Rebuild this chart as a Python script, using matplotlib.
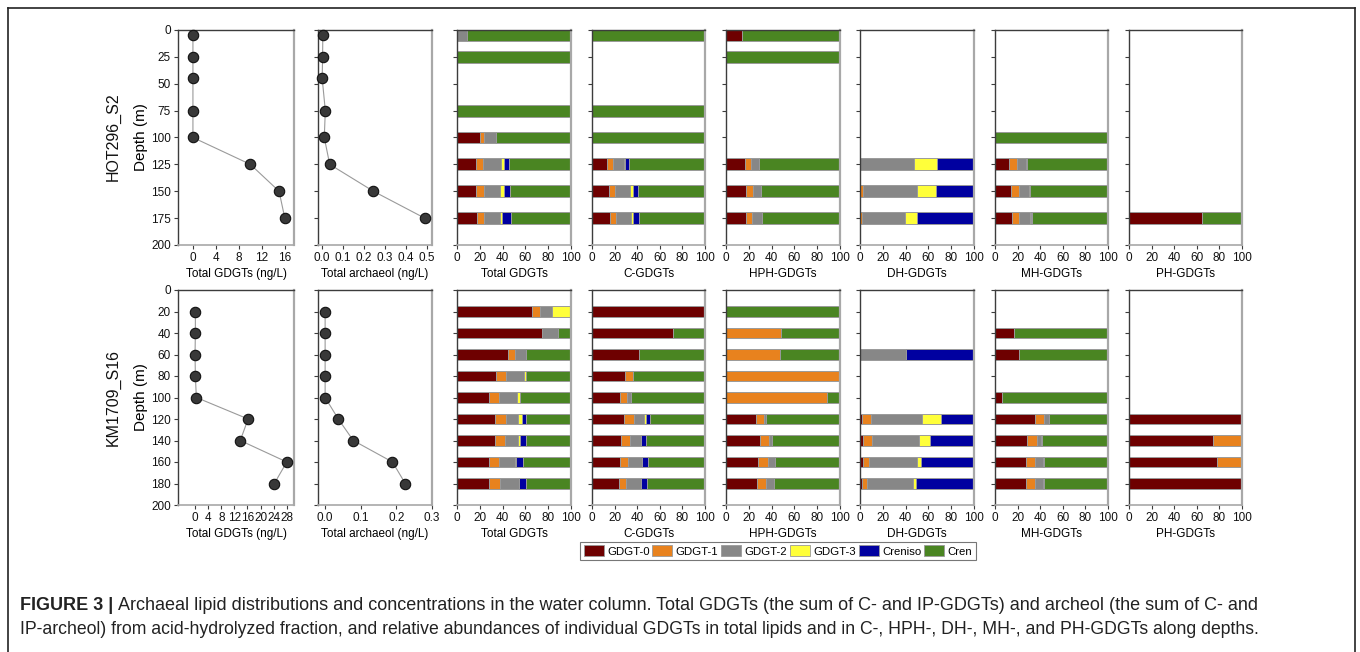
import matplotlib
matplotlib.use("Agg")
import matplotlib.pyplot as plt
from matplotlib.lines import Line2D
from matplotlib.patches import Patch
import numpy as np

plt.rcParams['font.family'] = ['Liberation Sans', 'DejaVu Sans']

# ---------------- data ----------------
components = ["GDGT-0", "GDGT-1", "GDGT-2", "GDGT-3", "Creniso", "Cren"]
comp_colors = ["#6E0000", "#E8821E", "#878787", "#FFFF3A", "#0000A0", "#4A8522"]

hot_depth = [5, 25, 45, 75, 100, 125, 150, 175]
hot_gdgt = [0, 0, 0, 0, 0, 10, 15, 16]
hot_arch = [0.003, 0.002, 0.0, 0.015, 0.01, 0.036, 0.245, 0.49]

km_depth = [20, 40, 60, 80, 100, 120, 140, 160, 180]
km_gdgt = [0.1, 0.1, 0.0, 0.1, 0.4, 16.2, 13.8, 28.0, 24.2]
km_arch = [0.0, 0.0, 0.0, 0.0, 0.0, 0.037, 0.079, 0.189, 0.225]

# relative abundances (%): GDGT-0, GDGT-1, GDGT-2, GDGT-3, Creniso, Cren
hot_total = [[0, 0, 9, 0, 0, 91], [0, 0, 0, 0, 0, 100], None, [0, 0, 0, 0, 0, 100],
             [20, 4, 10.5, 0, 0, 65.5], [16.5, 6.5, 15.2, 3.3, 4.4, 54.1],
             [16.8, 7, 14.1, 3.6, 5, 53.5], [17.6, 6.2, 13.6, 2.3, 7.7, 52.6]]
hot_c = [[0, 0, 0, 0, 0, 100], None, None, [0, 0, 0, 0, 0, 100],
         [0, 0, 0, 0, 0, 100], [13.3, 5.6, 9.4, 1.2, 3.5, 67],
         [15, 5.6, 13, 2.4, 4.4, 59.6], [15.9, 5.3, 13.3, 1.8, 5.3, 58.4]]
hot_hph = [[13.8, 0, 0, 0, 0, 86.2], [0, 0, 0, 0, 0, 100], None, None, None,
           [16.8, 5, 7.3, 0, 0, 70.9], [17.9, 5.9, 7.1, 0, 0, 69.1],
           [17.9, 5, 9.1, 0, 0, 68]]
hot_dh = [None, None, None, None, None, [0, 0, 47, 20.3, 32.7, 0],
          [0, 2.3, 47.3, 16.7, 33.7, 0], [0, 1.8, 37.5, 11.1, 49.6, 0]]
hot_mh = [None, None, None, None, [0, 0, 0, 0, 0, 100],
          [12.4, 7, 7.6, 0, 0.9, 72.1], [14.4, 7.1, 8.2, 1, 0, 69.3],
          [14.7, 6.8, 9.4, 1, 0.5, 67.6]]
hot_ph = [None, None, None, None, None, None, None, [64.6, 0, 0, 0, 0, 35.4]]

km_total = [[65.6, 6.8, 10.8, 16.8, 0, 0], [74.4, 0, 13.8, 0, 0, 11.8],
            [44.4, 6.5, 10, 0, 0, 39.1], [34.1, 9.1, 15.3, 1.8, 0, 39.7],
            [27.9, 9.2, 15.5, 2.7, 0, 44.7], [33.2, 9.4, 10.9, 3.3, 3.5, 39.7],
            [33.5, 8.9, 11.1, 1.8, 5, 39.7], [28.5, 8.6, 14.1, 0.6, 6.1, 42.1],
            [28.5, 9.4, 16.2, 0.3, 6.2, 39.4]]
km_c = [[100, 0, 0, 0, 0, 0], [71.4, 0, 0, 0, 0, 28.6], [41.9, 0, 0, 0, 0, 58.1],
        [28.9, 7.7, 0, 0, 0, 63.4], [24.8, 6.2, 3.5, 0, 0, 65.5],
        [28.3, 8.6, 8.8, 1.8, 3.5, 49], [25.7, 7.6, 10.4, 0, 4.1, 52.2],
        [24.8, 6.8, 12.4, 0, 5.6, 50.4], [23.6, 6.8, 13.3, 0, 5, 51.3]]
km_hph = [[0, 0, 0, 0, 0, 100], [0, 48.5, 0, 0, 0, 51.5], [0, 47.6, 0, 0, 0, 52.4],
          [0, 100, 0, 0, 0, 0], [0, 88.2, 0, 0, 0, 11.8],
          [26.2, 7, 1.8, 0, 0.3, 64.7], [29.7, 7.9, 2.7, 0, 0, 59.7],
          [28.2, 8.9, 5.8, 0, 0, 57.1], [26.8, 8.5, 6.8, 0, 0, 57.9]]
km_dh = [None, None, [0, 0, 40.2, 0, 59.8, 0], None, None,
         [1.8, 7.9, 44.3, 17, 28.4, 0.6], [2.9, 8, 41, 9.7, 37.8, 0.6],
         [2.3, 5.6, 42.5, 3.3, 45.7, 0.6], [2, 4.2, 40.7, 2.1, 51, 0]]
km_mh = [None, [17.1, 0, 0, 0, 0, 82.9], [20.9, 0, 0, 0, 0, 79.1], None,
         [6.5, 0, 0, 0, 0, 93.5], [35, 8.5, 3.9, 0, 0, 52.6],
         [28.5, 8.3, 3.5, 0, 0.9, 58.8], [27.4, 8.2, 7, 0, 0.9, 56.5],
         [27, 8, 7.6, 0, 1.2, 56.2]]
km_ph = [None, None, None, None, None, [100, 0, 0, 0, 0, 0],
         [74.3, 25.7, 0, 0, 0, 0], [77.6, 22.4, 0, 0, 0, 0], [100, 0, 0, 0, 0, 0]]

stations = ["HOT296_S2", "KM1709_S16"]
bar_titles = ["Total GDGTs", "C-GDGTs", "HPH-GDGTs", "DH-GDGTs", "MH-GDGTs", "PH-GDGTs"]
conc_labels = ["Total GDGTs (ng/L)", "Total archaeol (ng/L)"]

caption_head = "FIGURE 3 |"
caption1 = ("Archaeal lipid distributions and concentrations in the water column. Total GDGTs "
            "(the sum of C- and IP-GDGTs) and archeol (the sum of C- and")
caption2 = ("IP-archeol) from acid-hydrolyzed fraction, and relative abundances of individual "
            "GDGTs in total lipids and in C-, HPH-, DH-, MH-, and PH-GDGTs along depths.")

# ---------------- layout ----------------
W, H = 1360, 652
fig = plt.figure(figsize=(W / 100, H / 100), dpi=100)

lefts = [178, 318, 457, 592, 726, 860, 995, 1129]
widths = [116, 114, 114, 113, 114, 114, 113, 113]
row_top = [30, 290]
row_h = 215

DARK = "#3c3c3c"
LIGHT = "#a8a8a8"
TICKFS = 8.5


def style_axes(ax):
    ax.spines['left'].set_color(DARK)
    ax.spines['top'].set_color(DARK)
    ax.spines['right'].set_color(LIGHT)
    ax.spines['bottom'].set_color(LIGHT)
    ax.spines['right'].set_linewidth(1.6)
    ax.spines['bottom'].set_linewidth(1.2)
    ax.spines['left'].set_linewidth(1.0)
    ax.spines['top'].set_linewidth(1.0)
    ax.tick_params(axis='both', direction='out', length=3, width=0.8, color=DARK,
                   labelsize=TICKFS, pad=2, labelcolor="#111111")


def make_ax(col, row):
    x0 = lefts[col] / W
    y0 = 1 - (row_top[row] + row_h) / H
    return fig.add_axes([x0, y0, widths[col] / W, row_h / H])


rows_data = [
    dict(depth=hot_depth, gdgt=hot_gdgt, arch=hot_arch,
         bars=[hot_total, hot_c, hot_hph, hot_dh, hot_mh, hot_ph],
         yticks=np.arange(0, 201, 25), gx=(-2.6, 17.6), gticks=[0, 4, 8, 12, 16],
         ax_=(-0.02, 0.525), aticks=[0.0, 0.1, 0.2, 0.3, 0.4, 0.5], barh=11),
    dict(depth=km_depth, gdgt=km_gdgt, arch=km_arch,
         bars=[km_total, km_c, km_hph, km_dh, km_mh, km_ph],
         yticks=np.arange(0, 201, 20), gx=(-5.2, 30.2), gticks=[0, 4, 8, 12, 16, 20, 24, 28],
         ax_=(-0.02, 0.3), aticks=[0.0, 0.1, 0.2, 0.3], barh=10),
]

for r, rd in enumerate(rows_data):
    # concentration panels
    for c, (vals, xl, xt, fmt) in enumerate([(rd['gdgt'], rd['gx'], rd['gticks'], "{:.0f}"),
                                             (rd['arch'], rd['ax_'], rd['aticks'], "{:.1f}")]):
        ax = make_ax(c, r)
        ax.plot(vals, rd['depth'], color="#9a9a9a", lw=0.8, zorder=2)
        ax.plot(vals, rd['depth'], 'o', ms=7.5, mfc="#383838", mec="#111111", mew=0.8,
                zorder=3, clip_on=False)
        ax.set_xlim(*xl)
        ax.set_ylim(200, 0)
        ax.set_yticks(rd['yticks'])
        ax.set_xticks(xt)
        ax.set_xticklabels([fmt.format(v) for v in xt])
        style_axes(ax)
        if c == 0:
            ax.set_ylabel("Depth (m)", fontsize=11, labelpad=2)
            ax.set_yticklabels([str(v) for v in rd['yticks']])
        else:
            ax.set_yticklabels([])
        ax.set_xlabel(conc_labels[c], fontsize=8.5, labelpad=3)

    # bar panels
    for b, bars in enumerate(rd['bars']):
        ax = make_ax(b + 2, r)
        for comp_i, comp in enumerate(components):
            lefts_ = []
            widths_ = []
            ys = []
            for d, row in zip(rd['depth'], bars):
                if row is None:
                    continue
                if row[comp_i] <= 0:
                    continue
                lefts_.append(sum(row[:comp_i]))
                widths_.append(row[comp_i])
                ys.append(d)
            if ys:
                ax.barh(ys, widths_, left=lefts_, height=rd['barh'],
                        color=comp_colors[comp_i], edgecolor="#9a9a9a", linewidth=0.7,
                        zorder=2)
        ax.set_xlim(0, 100)
        ax.set_ylim(200, 0)
        ax.set_yticks(rd['yticks'])
        ax.set_yticklabels([])
        ax.set_xticks([0, 20, 40, 60, 80, 100])
        style_axes(ax)
        ax.set_xlabel(bar_titles[b], fontsize=8.5, labelpad=3)

    fig.text(113 / W, 1 - (row_top[r] + 107) / H, stations[r], rotation=90,
             ha='center', va='center', fontsize=11.5, color="#111111")

# legend
handles = [Patch(facecolor=col, edgecolor="#9a9a9a", linewidth=0.6, label=lab)
           for col, lab in zip(comp_colors, components)]
leg = fig.legend(handles=handles, loc='center', bbox_to_anchor=(778 / W, 1 - 551 / H),
                 ncol=6, fontsize=8.2, frameon=True, fancybox=False, handlelength=1.75,
                 handleheight=1.1, handletextpad=0.3, columnspacing=0.25,
                 borderpad=0.3, borderaxespad=0)
leg.get_frame().set_edgecolor("#555555")
leg.get_frame().set_linewidth(0.8)

# outer frame
for xs, ys in [((8, 1355), (8, 8)), ((8, 8), (8, 660)), ((1355, 1355), (8, 660))]:
    fig.add_artist(Line2D([x / W for x in xs], [1 - y / H for y in ys],
                          transform=fig.transFigure, color="#222222", lw=1.2))

# caption
CAPFS = 13
renderer = fig.canvas.get_renderer()
head = fig.text(20 / W, 1 - 605 / H, caption_head, fontsize=CAPFS, fontweight='bold',
                color="#222222", va='center', ha='left')
bb = head.get_window_extent(renderer=renderer)
fig.text((bb.x1 + 5) / W, 1 - 605 / H, caption1, fontsize=CAPFS, color="#222222",
         va='center', ha='left')
fig.text(20 / W, 1 - 630 / H, caption2, fontsize=12.7, color="#222222",
         va='center', ha='left')

fig.savefig("out.png", dpi=100)
